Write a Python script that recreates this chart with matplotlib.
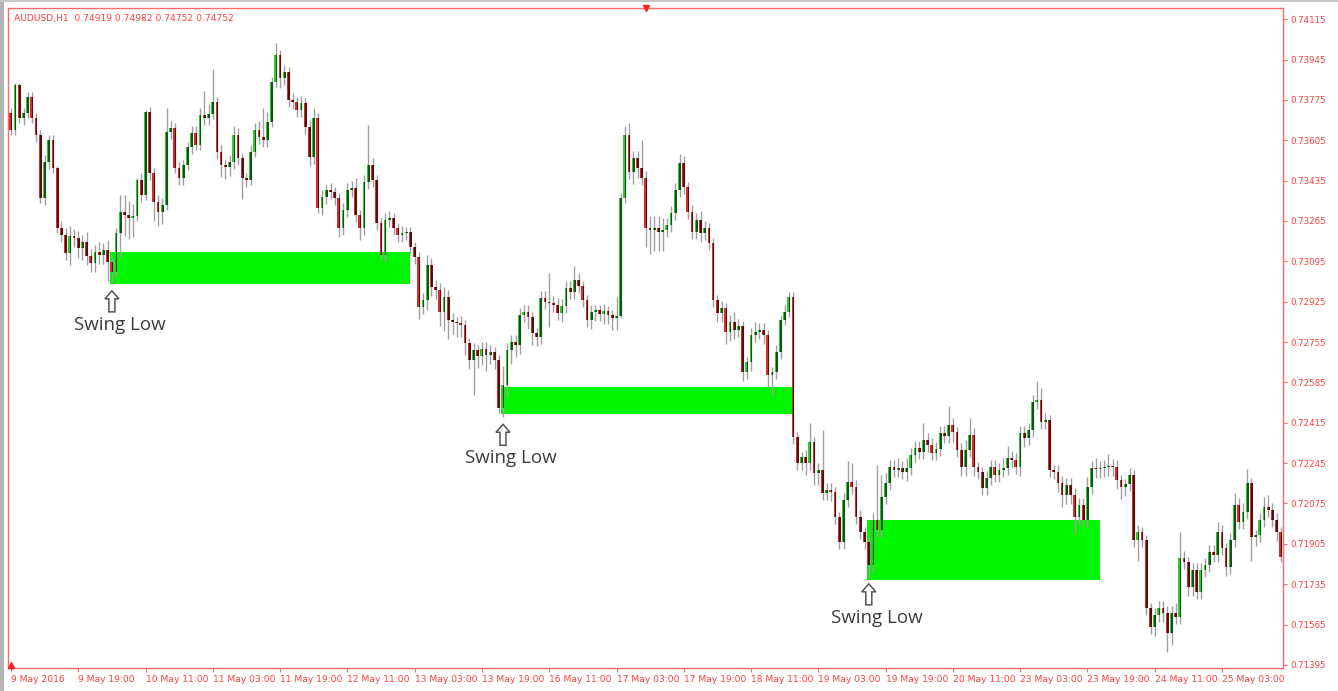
import matplotlib
matplotlib.use("Agg")
import matplotlib.pyplot as plt
import matplotlib.transforms as mtransforms
from matplotlib.patches import Polygon, Rectangle
import numpy as np

# ---------------- data ----------------
symbol_title = "AUDUSD,H1  0.74919 0.74982 0.74752 0.74752"

first_open = 0.73720
# hourly closes, bar 0 = 9 May 2016 03:00 (opens follow the previous close)
closes = [
    0.73648, 0.73838, 0.73699, 0.73720, 0.73787, 0.73699, 0.73627, 0.73362, 0.73514, 0.73606,
    0.73488, 0.73236, 0.73206, 0.73130, 0.73202, 0.73194, 0.73151, 0.73177, 0.73118, 0.73088,
    0.73135, 0.73122, 0.73143, 0.73092, 0.73050, 0.73215, 0.73303, 0.73290, 0.73278, 0.73286,
    0.73438, 0.73375, 0.73724, 0.73467, 0.73345, 0.73303, 0.73333, 0.73640, 0.73657, 0.73488,
    0.73446, 0.73501, 0.73577, 0.73636, 0.73585, 0.73712, 0.73699, 0.73716, 0.73766, 0.73556,
    0.73501, 0.73493, 0.73514, 0.73627, 0.73531, 0.73446, 0.73438, 0.73556, 0.73648, 0.73619,
    0.73606, 0.73682, 0.73851, 0.73964, 0.73867, 0.73893, 0.73775, 0.73766, 0.73733, 0.73762,
    0.73661, 0.73535, 0.73699, 0.73320, 0.73366, 0.73396, 0.73387, 0.73362, 0.73236, 0.73311,
    0.73396, 0.73404, 0.73290, 0.73236, 0.73429, 0.73501, 0.73438, 0.73257, 0.73122, 0.73269,
    0.73278, 0.73236, 0.73206, 0.73215, 0.73219, 0.73156, 0.73114, 0.72903, 0.72932, 0.73080,
    0.72987, 0.72975, 0.72882, 0.72945, 0.72848, 0.72840, 0.72836, 0.72827, 0.72751, 0.72680,
    0.72722, 0.72697, 0.72726, 0.72701, 0.72713, 0.72680, 0.72478, 0.72574, 0.72722, 0.72755,
    0.72743, 0.72869, 0.72882, 0.72861, 0.72793, 0.72777, 0.72941, 0.72924, 0.72920, 0.72911,
    0.72878, 0.72907, 0.72983, 0.72966, 0.73017, 0.72991, 0.72932, 0.72848, 0.72882, 0.72890,
    0.72873, 0.72886, 0.72869, 0.72857, 0.72865, 0.73362, 0.73627, 0.73472, 0.73531, 0.73488,
    0.73446, 0.73236, 0.73227, 0.73236, 0.73219, 0.73227, 0.73248, 0.73299, 0.73396, 0.73509,
    0.73408, 0.73303, 0.73219, 0.73269, 0.73215, 0.73236, 0.73172, 0.72932, 0.72878, 0.72899,
    0.72798, 0.72840, 0.72806, 0.72823, 0.72629, 0.72671, 0.72785, 0.72798, 0.72806, 0.72785,
    0.72616, 0.72629, 0.72713, 0.72848, 0.72882, 0.72945, 0.72355, 0.72246, 0.72271, 0.72246,
    0.72334, 0.72204, 0.72216, 0.72119, 0.72132, 0.72124, 0.72018, 0.71913, 0.72090, 0.72166,
    0.72145, 0.72018, 0.71955, 0.71913, 0.71816, 0.72006, 0.71964, 0.72103, 0.72162, 0.72229,
    0.72216, 0.72225, 0.72208, 0.72225, 0.72280, 0.72309, 0.72292, 0.72343, 0.72322, 0.72288,
    0.72305, 0.72372, 0.72360, 0.72406, 0.72376, 0.72301, 0.72229, 0.72301, 0.72364, 0.72229,
    0.72208, 0.72141, 0.72183, 0.72229, 0.72195, 0.72216, 0.72225, 0.72267, 0.72258, 0.72229,
    0.72372, 0.72351, 0.72385, 0.72503, 0.72511, 0.72419, 0.72427, 0.72216, 0.72208, 0.72162,
    0.72111, 0.72153, 0.72111, 0.72018, 0.72069, 0.72006, 0.72145, 0.72225, 0.72221, 0.72225,
    0.72229, 0.72233, 0.72229, 0.72174, 0.72145, 0.72157, 0.72195, 0.71922, 0.71955, 0.71922,
    0.71635, 0.71555, 0.71606, 0.71635, 0.71614, 0.71530, 0.71614, 0.71597, 0.71846, 0.71829,
    0.71724, 0.71795, 0.71702, 0.71795, 0.71816, 0.71871, 0.71858, 0.71955, 0.71888, 0.71808,
    0.71922, 0.72069, 0.71997, 0.72039, 0.72162, 0.71934, 0.71943, 0.72006, 0.72061, 0.72048,
    0.72006, 0.71955, 0.71850,
]
# upper / lower shadow lengths in pips
wick_up_pips = [
    2, 1, 1, 2, 2, 2, 2, 2, 3, 2,
    2, 1, 3, 3, 4, 3, 3, 3, 4, 3,
    3, 4, 3, 4, 2, 2, 7, 7, 6, 5,
    1, 3, 1, 2, 2, 3, 3, 10, 3, 2,
    3, 2, 2, 3, 3, 3, 10, 4, 14, 2,
    3, 2, 3, 4, 3, 2, 2, 3, 3, 4,
    12, 4, 2, 5, 2, 3, 2, 3, 2, 3,
    2, 3, 4, 2, 3, 2, 3, 2, 2, 3,
    3, 3, 4, 2, 3, 17, 3, 2, 2, 3,
    3, 2, 2, 3, 2, 2, 2, 2, 3, 4,
    3, 3, 3, 4, 3, 3, 2, 3, 2, 2,
    3, 2, 3, 3, 3, 2, 2, 8, 3, 3,
    3, 3, 3, 3, 2, 2, 3, 3, 12, 3,
    3, 3, 3, 3, 6, 3, 2, 2, 3, 2,
    2, 3, 2, 2, 8, 2, 4, 5, 3, 3,
    12, 3, 5, 5, 5, 5, 3, 3, 3, 4,
    3, 2, 3, 3, 4, 3, 2, 2, 2, 3,
    2, 3, 4, 3, 2, 2, 3, 4, 3, 3,
    2, 2, 3, 2, 3, 2, 2, 2, 2, 3,
    8, 2, 3, 17, 3, 3, 2, 2, 3, 9,
    8, 3, 3, 2, 2, 3, 23, 9, 4, 3,
    3, 4, 3, 4, 3, 3, 3, 7, 3, 3,
    3, 3, 3, 8, 3, 2, 3, 4, 7, 3,
    2, 2, 3, 3, 3, 3, 4, 5, 3, 3,
    3, 3, 3, 3, 8, 5, 3, 2, 2, 3,
    3, 3, 3, 3, 3, 3, 4, 3, 4, 3,
    3, 5, 3, 3, 2, 2, 3, 2, 3, 2,
    2, 2, 3, 3, 3, 3, 3, 4, 11, 3,
    2, 3, 3, 3, 3, 3, 3, 4, 3, 2,
    3, 5, 3, 4, 6, 2, 2, 3, 4, 5,
    3, 3, 2,
]
wick_dn_pips = [
    2, 2, 2, 3, 2, 2, 3, 2, 3, 3,
    2, 2, 3, 3, 5, 4, 4, 5, 4, 4,
    4, 4, 4, 8, 5, 2, 10, 9, 9, 8,
    2, 3, 2, 3, 8, 6, 5, 2, 3, 2,
    3, 3, 2, 3, 2, 2, 3, 3, 2, 3,
    5, 5, 4, 3, 3, 9, 3, 2, 2, 3,
    3, 3, 2, 2, 4, 3, 3, 3, 3, 3,
    3, 4, 3, 2, 3, 3, 3, 3, 4, 3,
    3, 3, 3, 5, 3, 3, 3, 3, 2, 3,
    3, 3, 3, 3, 3, 3, 3, 5, 3, 4,
    4, 4, 6, 8, 8, 5, 6, 5, 5, 4,
    15, 5, 4, 7, 4, 4, 2, 4, 5, 6,
    5, 4, 3, 5, 5, 4, 3, 3, 10, 3,
    3, 4, 3, 3, 3, 3, 3, 3, 4, 4,
    3, 4, 4, 5, 5, 1, 2, 3, 5, 4,
    3, 8, 10, 9, 8, 8, 3, 3, 3, 3,
    3, 3, 3, 3, 4, 3, 3, 3, 4, 4,
    5, 4, 4, 3, 4, 3, 4, 3, 3, 4,
    5, 9, 3, 3, 2, 2, 3, 3, 3, 5,
    3, 5, 5, 3, 3, 4, 3, 3, 3, 3,
    3, 3, 3, 3, 5, 3, 3, 3, 3, 3,
    3, 3, 3, 4, 3, 3, 3, 3, 3, 3,
    3, 3, 3, 3, 4, 3, 4, 4, 3, 4,
    3, 3, 3, 3, 3, 3, 3, 3, 3, 3,
    4, 4, 3, 3, 3, 3, 3, 3, 3, 4,
    5, 4, 4, 7, 3, 3, 3, 3, 4, 4,
    4, 4, 4, 4, 5, 4, 3, 3, 9, 3,
    3, 3, 4, 3, 4, 8, 5, 3, 3, 3,
    4, 4, 3, 3, 3, 3, 3, 3, 3, 4,
    3, 3, 3, 3, 3, 10, 4, 3, 3, 3,
    3, 4, 2,
]

time_labels = [
    "9 May 2016", "9 May 19:00", "10 May 11:00", "11 May 03:00", "11 May 19:00",
    "12 May 11:00", "13 May 03:00", "13 May 19:00", "16 May 11:00", "17 May 03:00",
    "17 May 19:00", "18 May 11:00", "19 May 03:00", "19 May 19:00", "20 May 11:00",
    "23 May 03:00", "23 May 19:00", "24 May 11:00", "25 May 03:00",
]
bars_per_label = 16

price_ticks = [0.74115, 0.73945, 0.73775, 0.73605, 0.73435, 0.73265, 0.73095, 0.72925,
               0.72755, 0.72585, 0.72415, 0.72245, 0.72075, 0.71905, 0.71735, 0.71565,
               0.71395]

# demand zones drawn from the swing-low candles
zone_start_bar = [24, 117, 204]
zone_end_bar = [95, 186, 259]
zone_top = [0.73135, 0.72566, 0.72006]
zone_bottom = [0.73000, 0.72452, 0.71753]
swing_label = "Swing Low"

# ---------------- figure ----------------
W, H = 1338, 691
fig = plt.figure(figsize=(W / 100, H / 100), dpi=100)
fig.patch.set_facecolor("white")
L, R, T, B = 8, 1283, 8, 668
ax = fig.add_axes([L / W, 1 - B / H, (R - L) / W, (B - T) / H])
ax.set_facecolor("white")

pip = 0.0001
n = len(closes)
idx = np.arange(n)
c = np.array(closes)
o = np.concatenate([[first_open], c[:-1]])
hi = np.maximum(o, c) + np.array(wick_up_pips[:n]) * pip
lo = np.minimum(o, c) - np.array(wick_dn_pips[:n]) * pip
bull = c >= o
body_bot = np.minimum(o, c)
body_h = np.maximum(np.abs(c - o), 0.00003)

# zones (background)
for s, e, t, b in zip(zone_start_bar, zone_end_bar, zone_top, zone_bottom):
    ax.add_patch(Rectangle((s - 0.35, b), e - s + 0.35, t - b,
                           facecolor="#00f500", edgecolor="none", zorder=1))

# wicks
ax.vlines(idx, lo, hi, colors="#a0a0a0", linewidth=1.0, zorder=3)

# bodies: bright stripe on the left, dark on the right
for mask, bright, dark in [(bull, "#2fc82f", "#14501a"), (~bull, "#dc2a2a", "#4c1212")]:
    ax.bar(idx[mask] + 0.08, body_h[mask], bottom=body_bot[mask], width=0.44,
           color=dark, linewidth=0, zorder=4)
    ax.bar(idx[mask] - 0.22, body_h[mask], bottom=body_bot[mask], width=0.28,
           color=bright, linewidth=0, zorder=4)

ax.set_xlim(-0.71, 302.5)
ax.set_ylim(0.71382, 0.74162)

# axes styling (MetaTrader look)
frame_col = "#ff6a6a"
text_col = "#ff4040"
for sp in ax.spines.values():
    sp.set_color(frame_col)
    sp.set_linewidth(1.0)

ax.yaxis.tick_right()
ax.set_yticks(price_ticks)
ax.set_yticklabels([f"{p:.5f}" for p in price_ticks])
ax.tick_params(axis="y", length=3, width=0.8, color=frame_col, labelcolor=text_col,
               labelsize=6.2, pad=2)

xt = [k * bars_per_label for k in range(len(time_labels))]
ax.set_xticks(xt)
ax.set_xticklabels(time_labels, ha="left")
ax.tick_params(axis="x", length=3, width=0.8, color=frame_col, labelcolor=text_col,
               labelsize=6.6, pad=2)
for lab in ax.get_xticklabels():
    lab.set_horizontalalignment("left")

# title line
fig.text(14 / W, 1 - 18 / H, symbol_title, fontsize=6.6, color=text_col,
         va="center", ha="left")

# small markers of the terminal
ax.plot([0.5], [1.0], marker="v", markersize=5, color="#ff2020",
        transform=ax.transAxes, clip_on=False, zorder=6)
ax.plot([0.002], [0.005], marker="^", markersize=5, color="#ff2020",
        transform=ax.transAxes, clip_on=False, zorder=6)

# window borders
fig.patches.append(Rectangle((0, 0), 4 / W, 1, transform=fig.transFigure,
                             facecolor="#b4b4b4", edgecolor="none"))
fig.patches.append(Rectangle((0, 1 - 2 / H), 1, 2 / H, transform=fig.transFigure,
                             facecolor="#c8c8c8", edgecolor="none"))

# swing low arrows + labels
arrow_px = np.array([(0, -7), (7, -15), (3, -15), (3, -28), (-3, -28), (-3, -15), (-7, -15)])
for s in zone_start_bar:
    low_val = lo[s]
    tr = mtransforms.ScaledTranslation(s, low_val, ax.transData)
    ax.add_patch(Polygon(arrow_px, closed=True, facecolor="white", edgecolor="#555555",
                         linewidth=1.1, transform=tr, clip_on=False, zorder=7))
    ax.annotate(swing_label, xy=(s, low_val), xytext=(5.5, -29.5),
                textcoords="offset points", ha="center", va="center",
                fontsize=13.5, color="#3c3c3c", family="Open Sans", zorder=7)

fig.savefig("out.png", dpi=100, facecolor="white")
